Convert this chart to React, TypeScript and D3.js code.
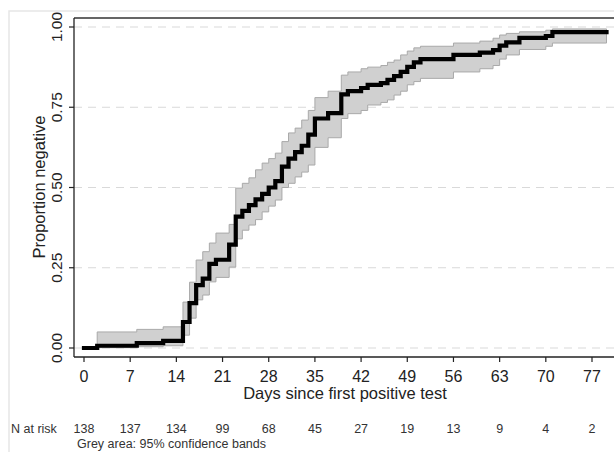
import React from 'react'
import * as d3 from 'd3'

// Kaplan-Meier estimate (proportion negative) with 95% CI
const days =  [0, 2, 8, 12, 15, 16, 17, 18, 19, 20, 22, 23, 24, 25, 26, 27, 28, 29, 30, 31, 32, 33, 34, 35, 37, 39, 40, 42, 43, 45, 46, 47, 48, 49, 50, 51, 56, 60, 62, 63, 64, 66, 70, 71]
const est =   [0, 0.007, 0.015, 0.022, 0.081, 0.14, 0.196, 0.216, 0.262, 0.275, 0.322, 0.409, 0.427, 0.445, 0.463, 0.48, 0.5, 0.52, 0.565, 0.59, 0.61, 0.63, 0.665, 0.715, 0.732, 0.79, 0.8, 0.81, 0.82, 0.825, 0.835, 0.847, 0.86, 0.876, 0.89, 0.9, 0.913, 0.92, 0.928, 0.942, 0.952, 0.966, 0.972, 0.984]
const lower = [0, 0.001, 0.004, 0.007, 0.04, 0.093, 0.15, 0.165, 0.206, 0.22, 0.252, 0.34, 0.367, 0.383, 0.4, 0.424, 0.442, 0.461, 0.5, 0.513, 0.533, 0.548, 0.57, 0.625, 0.655, 0.715, 0.73, 0.74, 0.757, 0.765, 0.773, 0.788, 0.8, 0.82, 0.83, 0.84, 0.86, 0.87, 0.88, 0.9, 0.913, 0.93, 0.94, 0.95]
const upper = [0, 0.05, 0.058, 0.066, 0.143, 0.205, 0.274, 0.3, 0.327, 0.358, 0.385, 0.498, 0.513, 0.53, 0.555, 0.576, 0.59, 0.607, 0.643, 0.67, 0.685, 0.71, 0.74, 0.78, 0.8, 0.85, 0.86, 0.87, 0.875, 0.88, 0.89, 0.897, 0.913, 0.925, 0.935, 0.94, 0.95, 0.956, 0.965, 0.975, 0.98, 0.985, 0.99, 0.994]
const lastDay = 79.2

const xTicks = [0, 7, 14, 21, 28, 35, 42, 49, 56, 63, 70, 77]
const nAtRisk = [138, 137, 134, 99, 68, 45, 27, 19, 13, 9, 4, 2]
const yTicks = [0, 0.25, 0.5, 0.75, 1]

const WIDTH = 614
const HEIGHT = 452
const FONT = 'Liberation Sans, Arial, sans-serif'

export default function App() {
  const x = d3.scaleLinear().domain([0, 77]).range([84, 592])
  const y = d3.scaleLinear().domain([0, 1]).range([348, 27])

  const axisLeft = 74
  const axisBottom = 357
  const plotTop = 18

  type Pt = { d: number; e: number; lo: number; hi: number }
  const pts: Pt[] = days.map((d, i) => ({ d, e: est[i], lo: lower[i], hi: upper[i] }))
  const last = pts[pts.length - 1]
  const withEnd = [...pts, { ...last, d: lastDay }]

  const line = d3.line<Pt>()
    .x((p) => x(p.d))
    .y((p) => y(p.e))
    .curve(d3.curveStepAfter)

  const band = d3.area<Pt>()
    .x((p) => x(p.d))
    .y0((p) => y(p.lo))
    .y1((p) => y(p.hi))
    .curve(d3.curveStepAfter)

  const bandPts = withEnd.filter((p) => p.d >= 2)

  return (
    <svg width={WIDTH} height={HEIGHT} style={{ position: 'absolute', left: 0, top: 0, background: '#fff' }}>
      {/* outer faint frame */}
      <path d={`M9,${HEIGHT} V11 H${WIDTH}`} fill="none" stroke="#e6e6e6" strokeWidth={1.5} />

      {/* gridlines */}
      {yTicks.map((t) => (
        <line key={t} x1={axisLeft} x2={WIDTH} y1={y(t)} y2={y(t)}
          stroke="#d9d9d9" strokeWidth={1.2} strokeDasharray="8,6" />
      ))}

      {/* confidence band */}
      <path d={band(bandPts) || ''} fill="#d0d0d0" stroke="#a9a9a9" strokeWidth={1} />

      {/* KM curve */}
      <path d={line(withEnd) || ''} fill="none" stroke="#000" strokeWidth={4.2} strokeLinecap="square" strokeLinejoin="miter" />

      {/* axes */}
      <line x1={axisLeft} x2={WIDTH} y1={plotTop} y2={plotTop} stroke="#333" strokeWidth={1.3} />
      <line x1={axisLeft} x2={axisLeft} y1={plotTop} y2={axisBottom} stroke="#222" strokeWidth={1.3} />
      <line x1={axisLeft} x2={WIDTH} y1={axisBottom} y2={axisBottom} stroke="#222" strokeWidth={1.3} />

      {yTicks.map((t) => (
        <g key={t}>
          <line x1={axisLeft - 5} x2={axisLeft} y1={y(t)} y2={y(t)} stroke="#222" strokeWidth={1.2} />
          <text transform={`translate(62,${y(t)}) rotate(-90)`} textAnchor="middle"
            fontFamily={FONT} fontSize={15.5} fill="#222">{t.toFixed(2)}</text>
        </g>
      ))}
      <text transform={`translate(45,${187}) rotate(-90)`} textAnchor="middle"
        fontFamily={FONT} fontSize={16.5} fill="#222">Proportion negative</text>

      {xTicks.map((t) => (
        <g key={t}>
          <line x1={x(t)} x2={x(t)} y1={axisBottom} y2={axisBottom + 5} stroke="#222" strokeWidth={1.2} />
          <text x={x(t)} y={381.5} textAnchor="middle" fontFamily={FONT} fontSize={16} fill="#222">{t}</text>
        </g>
      ))}
      <text x={345} y={398.5} textAnchor="middle" fontFamily={FONT} fontSize={16.5} fill="#222">
        Days since first positive test
      </text>

      {/* number at risk */}
      <text x={11} y={433} fontFamily={FONT} fontSize={12.5} fill="#333">N at risk</text>
      {xTicks.map((t, i) => (
        <text key={t} x={x(t)} y={433} textAnchor="middle" fontFamily={FONT} fontSize={12.5} fill="#333">
          {nAtRisk[i]}
        </text>
      ))}
      <text x={77} y={448} fontFamily={FONT} fontSize={12.5} fill="#333">Grey area: 95% confidence bands</text>
    </svg>
  )
}
